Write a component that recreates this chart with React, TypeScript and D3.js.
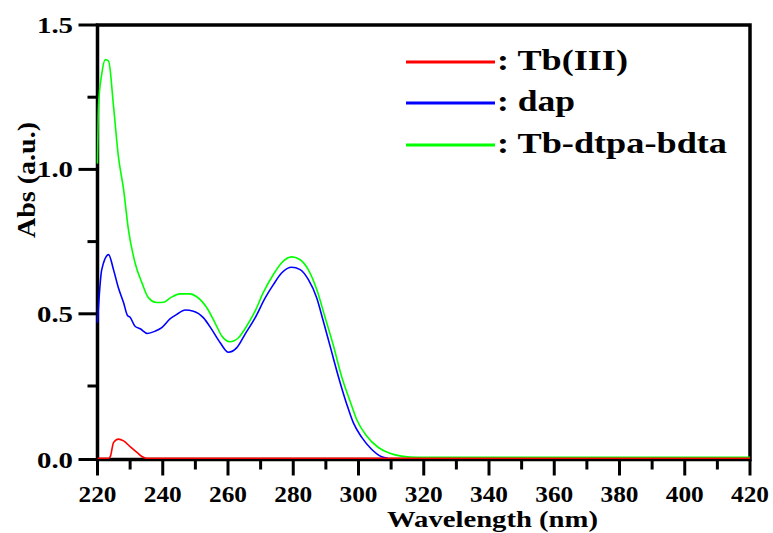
import React from "react";
import * as d3 from "d3";

const W = 773;
const H = 533;

const xTicks = [220, 240, 260, 280, 300, 320, 340, 360, 380, 400, 420];
const xMinorTicks = [230, 250, 270, 290, 310, 330, 350, 370, 390, 410];
const yTicks = [0, 0.5, 1.0, 1.5];
const yTickLabels = ["0.0", "0.5", "1.0", "1.5"];
const yMinorTicks = [0.25, 0.75, 1.25];

const seriesNames = ["Tb(III)", "dap", "Tb-dtpa-bdta"];
const seriesColors = ["#ff0000", "#0000ff", "#00ff00"];

const redWl = [220, 223.5, 224, 224.9, 226.4, 228, 230, 232.1, 233.6, 235, 300, 420];
const redAbs = [0, 0, 0.008, 0.054, 0.066, 0.06, 0.04, 0.02, 0.006, 0, 0, 0];

const blueWl = [220, 221.3, 223.4, 224.9, 226.4, 228, 229.2, 230, 231.5, 233.1, 235.3, 237.7, 239.7, 242.3, 244.3, 246.9, 249.4, 252.5, 255, 257.6, 260.1, 262.7, 265.2, 268.3, 271.4, 273.9, 276.5, 279.5, 282.1, 284.6, 287.2, 289.2, 291.3, 293.8, 296.4, 298.4, 301, 304, 307.1, 309];
const blueAbs = [0.469, 0.653, 0.705, 0.653, 0.59, 0.538, 0.494, 0.488, 0.457, 0.448, 0.432, 0.44, 0.452, 0.483, 0.498, 0.513, 0.509, 0.486, 0.446, 0.4, 0.367, 0.383, 0.429, 0.486, 0.555, 0.601, 0.642, 0.661, 0.653, 0.619, 0.555, 0.475, 0.388, 0.284, 0.187, 0.123, 0.072, 0.031, 0.005, 0];

const greenWl = [220, 220.3, 221.3, 222.4, 223.4, 224.9, 226.4, 228, 229.5, 231.5, 233.6, 235.6, 238.2, 240.2, 242.3, 245.3, 248.4, 250.4, 253.5, 256, 258.1, 260.6, 263.2, 265.7, 268.3, 270.8, 273.9, 276.4, 279.5, 282, 284.6, 287.2, 289.7, 292.3, 294.8, 297.4, 299.4, 302.5, 306.1, 309.6, 312.7, 315.7, 320, 360, 420];
const greenAbs = [1.02, 1.22, 1.33, 1.38, 1.375, 1.22, 1.045, 0.93, 0.79, 0.677, 0.608, 0.556, 0.539, 0.54, 0.555, 0.569, 0.569, 0.559, 0.521, 0.469, 0.423, 0.403, 0.417, 0.457, 0.509, 0.573, 0.636, 0.676, 0.697, 0.688, 0.653, 0.584, 0.49, 0.39, 0.284, 0.198, 0.135, 0.077, 0.037, 0.017, 0.008, 0.004, 0.003, 0.003, 0.003];

const FONT = "Liberation Serif, Times New Roman, Times, serif";

export default function App() {
  const left = 97.5, right = 750, top = 25, bottom = 459.5;
  const x = d3.scaleLinear().domain([220, 420]).range([left, right]);
  const y = d3.scaleLinear().domain([0, 1.5]).range([bottom - 1.3, top]);
  const yAxisPos = (v: number) => (v === 0 ? bottom : v === 1.5 ? top : y(v));

  const mk = (wl: number[], ab: number[]) =>
    d3
      .line<number>()
      .x((_, i) => x(wl[i]))
      .y((_, i) => y(ab[i]))
      .curve(d3.curveMonotoneX)(ab) || "";

  const paths = [
    { d: mk(greenWl, greenAbs), c: seriesColors[2] },
    { d: mk(blueWl, blueAbs), c: seriesColors[1] },
    { d: mk(redWl, redAbs), c: seriesColors[0] },
  ];

  const legendY = [62, 103, 145];
  const legendLen = [131, 78, 230];
  const ts = { fontFamily: FONT, fontWeight: 700 } as React.CSSProperties;

  return (
    <svg
      width={W}
      height={H}
      style={{ position: "absolute", left: 0, top: 0, background: "#fff" }}
    >
      <rect x={0} y={0} width={W} height={H} fill="#fff" />
      {/* frame */}
      <rect
        x={left}
        y={top}
        width={right - left}
        height={bottom - top}
        fill="none"
        stroke="#000"
        strokeWidth={3.5}
      />
      {/* x ticks */}
      {xTicks.map((t) => (
        <line key={"xt" + t} x1={x(t)} x2={x(t)} y1={bottom} y2={bottom + 16} stroke="#000" strokeWidth={3} />
      ))}
      {xMinorTicks.map((t) => (
        <line key={"xm" + t} x1={x(t)} x2={x(t)} y1={bottom} y2={bottom + 10} stroke="#000" strokeWidth={3} />
      ))}
      {xTicks.map((t) => (
        <text
          key={"xl" + t}
          x={x(t)}
          y={502}
          textAnchor="middle"
          fontSize={23}
          style={ts}
          textLength={38}
          lengthAdjust="spacingAndGlyphs"
        >
          {t}
        </text>
      ))}
      {/* y ticks */}
      {yTicks.map((t) => (
        <line key={"yt" + t} x1={left - 19} x2={left} y1={yAxisPos(t)} y2={yAxisPos(t)} stroke="#000" strokeWidth={3} />
      ))}
      {yMinorTicks.map((t) => (
        <line key={"ym" + t} x1={left - 10} x2={left} y1={y(t)} y2={y(t)} stroke="#000" strokeWidth={3} />
      ))}
      {yTicks.map((t, i) => (
        <text
          key={"yl" + t}
          x={73}
          y={yAxisPos(t) + 8}
          textAnchor="end"
          fontSize={23}
          style={ts}
          textLength={36}
          lengthAdjust="spacingAndGlyphs"
        >
          {yTickLabels[i]}
        </text>
      ))}
      {/* axis titles */}
      <text
        x={387}
        y={527}
        fontSize={23}
        style={ts}
        textLength={211}
        lengthAdjust="spacingAndGlyphs"
      >
        Wavelength (nm)
      </text>
      <text
        transform="translate(35,238) rotate(-90)"
        x={0}
        y={0}
        fontSize={25}
        style={ts}
        textLength={116}
        lengthAdjust="spacingAndGlyphs"
      >
        Abs (a.u.)
      </text>
      {/* data */}
      {paths.map((p, i) => (
        <path key={"p" + i} d={p.d} fill="none" stroke={p.c} strokeWidth={1.6} />
      ))}
      {/* legend */}
      {seriesNames.map((n, i) => (
        <g key={"lg" + i}>
          <line x1={406} x2={495} y1={legendY[i]} y2={legendY[i]} stroke={seriesColors[i]} strokeWidth={3} />
          <text
            x={497}
            y={legendY[i] + 8}
            fontSize={29}
            style={ts}
            textLength={legendLen[i]}
            lengthAdjust="spacingAndGlyphs"
          >
            {": " + n}
          </text>
        </g>
      ))}
    </svg>
  );
}
